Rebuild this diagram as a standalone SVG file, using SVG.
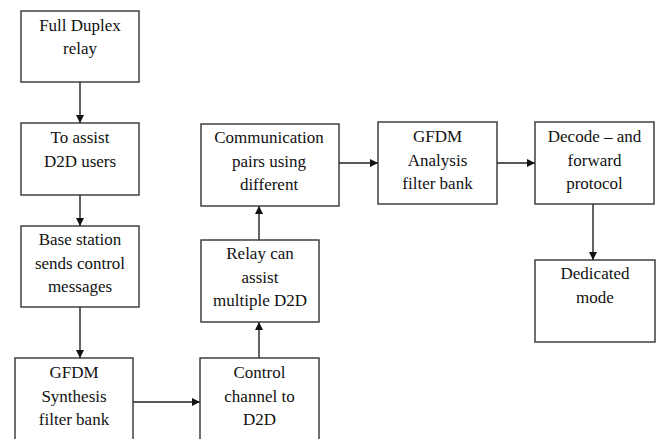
<svg xmlns="http://www.w3.org/2000/svg" width="663" height="439" viewBox="0 0 663 439">
<defs>
<marker id="ah" viewBox="0 0 10 10" refX="10" refY="5" markerWidth="8" markerHeight="8" markerUnits="userSpaceOnUse" orient="auto">
<path d="M0,0 L10,5 L0,10 z" fill="#111"/>
</marker>
<style>
.box{fill:#fff;stroke:#333;stroke-width:1.4}
.t{font-size:17px;fill:#111;text-anchor:middle}
.c{stroke:#222;stroke-width:1.4;fill:none;marker-end:url(#ah)}
</style>
</defs>
<rect width="663" height="439" fill="#fff"/>
<g id="connectors">
<line class="c" x1="80" y1="82" x2="80" y2="123"/>
<line class="c" x1="80" y1="195" x2="80" y2="226"/>
<line class="c" x1="80" y1="307" x2="80" y2="358"/>
<line class="c" x1="133" y1="402" x2="200" y2="402"/>
<line class="c" x1="259" y1="358" x2="259" y2="322"/>
<line class="c" x1="259" y1="240" x2="259" y2="206"/>
<line class="c" x1="339" y1="163" x2="378" y2="163"/>
<line class="c" x1="497" y1="163" x2="535" y2="163"/>
<line class="c" x1="593" y1="204" x2="593" y2="260"/>
</g>
<g id="nodes" font-family="Liberation Serif, DejaVu Serif, serif">
<g id="n1"><rect class="box" x="21" y="11" width="118" height="71"/>
<text class="t" x="80" y="31">Full Duplex</text><text class="t" x="80" y="54">relay</text></g>
<g id="n2"><rect class="box" x="21" y="123" width="118" height="72"/>
<text class="t" x="80" y="143">To assist</text><text class="t" x="80" y="167">D2D users</text></g>
<g id="n3"><rect class="box" x="21" y="226" width="118" height="81"/>
<text class="t" x="80" y="245">Base station</text><text class="t" x="80" y="269">sends control</text><text class="t" x="80" y="292">messages</text></g>
<g id="n4"><rect class="box" x="15" y="358" width="118" height="90"/>
<text class="t" x="74" y="378">GFDM</text><text class="t" x="74" y="402">Synthesis</text><text class="t" x="74" y="425">filter bank</text></g>
<g id="n5"><rect class="box" x="200" y="358" width="119" height="90"/>
<text class="t" x="259.5" y="378">Control</text><text class="t" x="259.5" y="402">channel to</text><text class="t" x="259.5" y="425">D2D</text></g>
<g id="n6"><rect class="box" x="201" y="240" width="118" height="82"/>
<text class="t" x="260" y="259">Relay can</text><text class="t" x="260" y="283">assist</text><text class="t" x="260" y="306">multiple D2D</text></g>
<g id="n7"><rect class="box" x="201" y="124" width="138" height="82"/>
<text class="t" x="269" y="143">Communication</text><text class="t" x="269" y="167">pairs using</text><text class="t" x="269" y="190">different</text></g>
<g id="n8"><rect class="box" x="378" y="122" width="119" height="82"/>
<text class="t" x="437.5" y="142">GFDM</text><text class="t" x="437.5" y="166">Analysis</text><text class="t" x="437.5" y="189">filter bank</text></g>
<g id="n9"><rect class="box" x="535" y="122" width="119" height="82"/>
<text class="t" x="594.5" y="142">Decode – and</text><text class="t" x="594.5" y="166">forward</text><text class="t" x="594.5" y="189">protocol</text></g>
<g id="n10"><rect class="box" x="535" y="260" width="120" height="82"/>
<text class="t" x="595" y="279">Dedicated</text><text class="t" x="595" y="303">mode</text></g>
</g>
</svg>
